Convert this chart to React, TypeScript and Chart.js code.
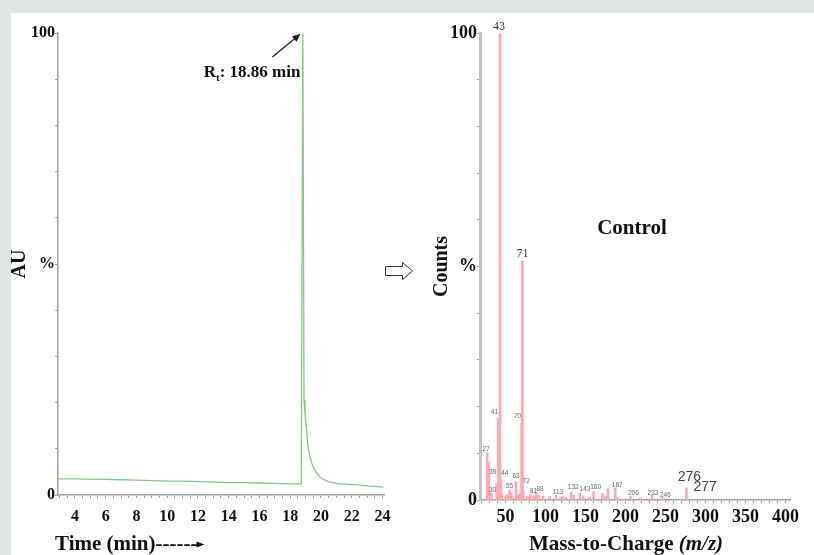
import React, { useEffect, useRef } from 'react';
import { Chart, registerables } from 'chart.js';
Chart.register(...registerables);

// ---------- Chromatogram (left) ----------
const timeMin = [2.9, 4, 5, 6, 7, 8, 9, 10, 11, 12, 13, 14, 15, 16, 17, 18, 18.72, 18.82, 18.9, 18.96, 19.03, 19.16, 19.29, 19.48, 19.68, 19.94, 20.26, 20.59, 21.24, 22.35, 23.2, 24.06];
const auPercent = [3.5, 3.5, 3.4, 3.4, 3.3, 3.2, 3.1, 3.0, 3.0, 2.9, 2.8, 2.7, 2.7, 2.6, 2.5, 2.4, 2.4, 100, 20.6, 17.7, 15.4, 10.4, 8.2, 6.1, 5.0, 3.9, 3.2, 2.8, 2.4, 2.2, 1.9, 1.7];
const timeTickLabels = [4, 6, 8, 10, 12, 14, 16, 18, 20, 22, 24];
const retentionTime = 18.86;

// ---------- Mass spectrum (right) ----------
const mzValues = [27, 28, 29, 30, 31, 32, 39, 40, 41, 42, 43, 44, 45, 50, 51, 53, 55, 56, 57, 58, 63, 65, 67, 69, 70, 71, 72, 77, 79, 81, 85, 88, 91, 97, 105, 113, 119, 121, 125, 132, 135, 143, 147, 155, 160, 171, 175, 178, 187, 190, 206, 218, 233, 246, 276, 277];
const countsPercent = [10.1, 2.0, 8.1, 1.0, 1.0, 1.5, 3.5, 2.0, 17.6, 4.3, 100, 4.3, 1.2, 0.8, 1.0, 1.2, 2.1, 1.0, 1.5, 0.8, 3.9, 1.0, 1.2, 1.5, 16.5, 51.2, 2.1, 0.8, 0.7, 1.2, 0.8, 1.5, 1.0, 0.8, 0.7, 1.0, 0.6, 0.8, 0.6, 1.7, 1.0, 1.5, 0.8, 0.6, 1.8, 1.4, 0.8, 2.4, 2.6, 0.5, 0.8, 0.4, 1.0, 0.6, 2.6, 0.8];
const mzTickLabels = [50, 100, 150, 200, 250, 300, 350, 400];

// label annotations: which peaks are labelled, and the label's offset from the bar top
const peakLabelMz = [27, 30, 39, 41, 43, 44, 55, 63, 70, 71, 72, 81, 88, 113, 132, 143, 160, 187, 206, 233, 246, 276, 277];
const peakLabelStyle: Record<number, { dx: number; dy: number; kind: string }> = {
  27: { dx: -1, dy: -4, kind: 's' }, 30: { dx: 3, dy: -5, kind: 's' }, 39: { dx: -4, dy: -11, kind: 's' },
  41: { dx: -4, dy: -6, kind: 's' }, 43: { dx: -1, dy: -6, kind: 'm' }, 44: { dx: 4, dy: -7, kind: 's' },
  55: { dx: 0, dy: -4, kind: 's' }, 63: { dx: 0, dy: -6, kind: 's' }, 70: { dx: -4, dy: -7, kind: 's' },
  71: { dx: 0, dy: -7, kind: 'm' }, 72: { dx: 3, dy: -9, kind: 's' }, 81: { dx: 3, dy: -3, kind: 's' },
  88: { dx: 4, dy: -4, kind: 's' }, 113: { dx: 2, dy: -3, kind: 's' }, 132: { dx: 2, dy: -5, kind: 's' },
  143: { dx: 5, dy: -4, kind: 's' }, 160: { dx: 2, dy: -4, kind: 's' }, 187: { dx: 2, dy: -3, kind: 's' },
  206: { dx: 3, dy: -3, kind: 's' }, 233: { dx: 1, dy: -2, kind: 's' }, 246: { dx: 3, dy: -2, kind: 's' },
  276: { dx: 3, dy: -11, kind: 'l' }, 277: { dx: 18, dy: -9, kind: 'l' },
};

const SERIF = '"Liberation Serif", "Times New Roman", serif';
const SANS = '"Liberation Sans", Arial, sans-serif';

function range(a: number, b: number, step: number) {
  const out: { value: number }[] = [];
  for (let v = a; v <= b + 1e-9; v += step) out.push({ value: Math.round(v * 100) / 100 });
  return out;
}

function yLabel(v: number) {
  if (v === 100) return '100';
  if (v === 50) return '%';
  if (v === 0) return '0';
  return '';
}

const leftDecor = {
  id: 'leftDecor',
  afterDraw(chart: any) {
    const ctx = chart.ctx;
    const xs = chart.scales.x;
    const ys = chart.scales.y;
    ctx.save();
    // Arrow to the peak
    const tipX = xs.getPixelForValue(retentionTime) - 3;
    const tipY = ys.getPixelForValue(100) + 1;
    const tailX = tipX - 28, tailY = tipY + 23;
    ctx.strokeStyle = '#222';
    ctx.fillStyle = '#111';
    ctx.lineWidth = 1.3;
    ctx.beginPath();
    ctx.moveTo(tailX, tailY);
    ctx.lineTo(tipX - 4, tipY + 3.3);
    ctx.stroke();
    const ang = Math.atan2(tipY - tailY, tipX - tailX);
    ctx.beginPath();
    ctx.moveTo(tipX, tipY);
    ctx.lineTo(tipX - 8 * Math.cos(ang) + 3.5 * Math.sin(ang), tipY - 8 * Math.sin(ang) - 3.5 * Math.cos(ang));
    ctx.lineTo(tipX - 8 * Math.cos(ang) - 3.5 * Math.sin(ang), tipY - 8 * Math.sin(ang) + 3.5 * Math.cos(ang));
    ctx.closePath();
    ctx.fill();
    // R_t label
    const right = tipX;
    const base = tipY + 43;
    ctx.textBaseline = 'alphabetic';
    ctx.textAlign = 'left';
    ctx.font = `bold 17px ${SERIF}`;
    const rest = `: ${retentionTime.toFixed(2)} min`;
    const wR = ctx.measureText('R').width;
    const wRest = ctx.measureText(rest).width;
    ctx.font = `bold 11px ${SERIF}`;
    const wt = ctx.measureText('t').width;
    const start = right - (wR + wt + wRest);
    ctx.font = `bold 17px ${SERIF}`;
    ctx.fillText('R', start, base);
    ctx.font = `bold 11px ${SERIF}`;
    ctx.fillText('t', start + wR, base + 4);
    ctx.font = `bold 17px ${SERIF}`;
    ctx.fillText(rest, start + wR + wt, base);
    // X title with dashed arrow
    ctx.font = `bold 21px ${SERIF}`;
    const tx = 55, ty = 550;
    ctx.fillText('Time (min)', tx, ty);
    const w1 = ctx.measureText('Time (min)').width;
    ctx.fillText('------', tx + w1, ty);
    const w2 = ctx.measureText('------').width;
    const ax = tx + w1 + w2;
    ctx.beginPath();
    ctx.moveTo(ax - 1, ty - 8.5);
    ctx.lineTo(ax + 7, ty - 5.5);
    ctx.lineTo(ax - 1, ty - 2.5);
    ctx.closePath();
    ctx.fill();
    ctx.restore();
  },
};

const rightDecor = {
  id: 'rightDecor',
  afterDraw(chart: any) {
    const ctx = chart.ctx;
    const xs = chart.scales.x;
    const ys = chart.scales.y;
    ctx.save();
    // peak labels
    peakLabelMz.forEach((mz) => {
      const idx = mzValues.indexOf(mz);
      if (idx < 0) return;
      const st = peakLabelStyle[mz];
      const px = xs.getPixelForValue(mz) + st.dx;
      const py = ys.getPixelForValue(countsPercent[idx]) + st.dy;
      ctx.textAlign = 'center';
      ctx.textBaseline = 'middle';
      if (st.kind === 'm') {
        ctx.font = `12px ${SERIF}`;
        ctx.fillStyle = '#333';
      } else if (st.kind === 'l') {
        ctx.font = `14px ${SANS}`;
        ctx.fillStyle = '#444';
      } else {
        ctx.font = `6.5px ${SANS}`;
        ctx.fillStyle = '#666';
      }
      ctx.fillText(String(mz), px, py);
    });
    // Control
    ctx.fillStyle = '#111';
    ctx.font = `bold 21px ${SERIF}`;
    ctx.textAlign = 'center';
    ctx.textBaseline = 'middle';
    ctx.fillText('Control', 262, 229);
    // hollow arrow between panels
    ctx.strokeStyle = '#333';
    ctx.lineWidth = 1;
    ctx.beginPath();
    ctx.moveTo(15.5, 266.5);
    ctx.lineTo(32.5, 266.5);
    ctx.lineTo(32.5, 262.5);
    ctx.lineTo(42.5, 271);
    ctx.lineTo(32.5, 279.5);
    ctx.lineTo(32.5, 275.5);
    ctx.lineTo(15.5, 275.5);
    ctx.closePath();
    ctx.stroke();
    // X title
    ctx.textAlign = 'left';
    ctx.textBaseline = 'alphabetic';
    ctx.font = `bold 21px ${SERIF}`;
    const t1 = 'Mass-to-Charge ';
    const w1 = ctx.measureText(t1).width;
    ctx.font = `italic bold 21px ${SERIF}`;
    const t2 = '(m/z)';
    const w2 = ctx.measureText(t2).width;
    const cx = 256;
    const sx = cx - (w1 + w2) / 2;
    ctx.font = `bold 21px ${SERIF}`;
    ctx.fillText(t1, sx, 550);
    ctx.font = `italic bold 21px ${SERIF}`;
    ctx.fillText(t2, sx + w1, 550);
    ctx.restore();
  },
};

export default function App() {
  const leftRef = useRef<HTMLCanvasElement>(null);
  const rightRef = useRef<HTMLCanvasElement>(null);

  useEffect(() => {
    const left = new Chart(leftRef.current as HTMLCanvasElement, {
      type: 'line',
      data: {
        datasets: [
          {
            data: timeMin.map((t, i) => ({ x: t, y: auPercent[i] })),
            borderColor: '#82c882',
            borderWidth: 1.3,
            pointRadius: 0,
            fill: false,
            tension: 0,
          },
        ],
      },
      options: {
        responsive: false,
        animation: false,
        devicePixelRatio: 1,
        layout: { padding: { left: 4, top: 33, right: 16, bottom: 0 } },
        plugins: { legend: { display: false }, tooltip: { enabled: false } },
        scales: {
          x: {
            type: 'linear',
            min: 2.9,
            max: 24.1,
            afterBuildTicks: (s: any) => { s.ticks = range(3, 24, 0.5); },
            afterFit: (s: any) => { s.height = 60; },
            grid: { drawOnChartArea: false, drawTicks: true, tickLength: 3, color: '#9a9a9a', lineWidth: 1 },
            border: { display: true, color: '#a0a0a0', width: 1.5 },
            ticks: {
              autoSkip: false,
              maxRotation: 0,
              padding: 9,
              color: '#111',
              font: { family: SERIF, size: 16, weight: 'bold' },
              callback: (v: any) => (timeTickLabels.includes(Number(v)) ? String(v) : ''),
            },
          },
          y: {
            type: 'linear',
            min: 0,
            max: 100,
            afterBuildTicks: (s: any) => { s.ticks = range(0, 100, 10); },
            afterFit: (s: any) => { s.width = 54; },
            grid: { drawOnChartArea: false, drawTicks: true, tickLength: 3, color: '#9a9a9a', lineWidth: 1 },
            border: { display: true, color: '#a0a0a0', width: 1.5 },
            title: { display: true, text: 'AU', color: '#111', font: { family: SERIF, size: 20, weight: 'bold' }, padding: { top: 4, bottom: 4 } },
            ticks: {
              autoSkip: false,
              padding: 0,
              color: '#111',
              font: { family: SERIF, size: 16, weight: 'bold' },
              callback: (v: any) => yLabel(Number(v)),
            },
          },
        },
      },
      plugins: [leftDecor],
    } as any);

    const right = new Chart(rightRef.current as HTMLCanvasElement, {
      type: 'bar',
      data: {
        datasets: [
          {
            data: mzValues.map((m, i) => ({ x: m, y: countsPercent[i] })),
            backgroundColor: '#ffa8b0',
            borderWidth: 0,
            barThickness: 2,
          },
        ],
      },
      options: {
        responsive: false,
        animation: false,
        devicePixelRatio: 1,
        layout: { padding: { left: 56, top: 33, right: 24, bottom: 0 } },
        plugins: { legend: { display: false }, tooltip: { enabled: false } },
        scales: {
          x: {
            type: 'linear',
            min: 18,
            max: 405.5,
            offset: false,
            afterBuildTicks: (s: any) => { s.ticks = range(20, 400, 10); },
            afterFit: (s: any) => { s.height = 55; },
            grid: { offset: false, drawOnChartArea: false, drawTicks: true, tickLength: 3, color: '#9a9a9a', lineWidth: 1 },
            border: { display: true, color: '#a0a0a0', width: 1.5 },
            ticks: {
              autoSkip: false,
              maxRotation: 0,
              padding: 4,
              color: '#111',
              font: { family: SERIF, size: 18, weight: 'bold' },
              callback: (v: any) => (mzTickLabels.includes(Number(v)) ? String(v) : ''),
            },
          },
          y: {
            type: 'linear',
            min: 0,
            max: 100,
            afterBuildTicks: (s: any) => { s.ticks = range(0, 100, 10); },
            afterFit: (s: any) => { s.width = 54; },
            grid: { drawOnChartArea: false, drawTicks: true, tickLength: 3, color: '#9a9a9a', lineWidth: 1 },
            border: { display: true, color: '#c4c4c4', width: 3 },
            title: { display: true, text: 'Counts', color: '#111', font: { family: SERIF, size: 20, weight: 'bold' }, padding: { top: 4, bottom: 4 } },
            ticks: {
              autoSkip: false,
              padding: 0,
              color: '#111',
              font: { family: SERIF, size: 18, weight: 'bold' },
              callback: (v: any) => yLabel(Number(v)),
            },
          },
        },
      },
      plugins: [rightDecor],
    } as any);

    return () => {
      left.destroy();
      right.destroy();
    };
  }, []);

  return (
    <div style={{ position: 'fixed', left: 0, top: 0, width: 814, height: 555, background: '#e2e5e6', overflow: 'hidden' }}>
      <div style={{ position: 'absolute', left: 11, top: 13, right: 0, bottom: 0, background: '#ffffff' }} />
      <canvas ref={leftRef} width={400} height={555} style={{ position: 'absolute', left: 0, top: 0, width: 400, height: 555 }} />
      <canvas ref={rightRef} width={444} height={555} style={{ position: 'absolute', left: 370, top: 0, width: 444, height: 555 }} />
    </div>
  );
}
